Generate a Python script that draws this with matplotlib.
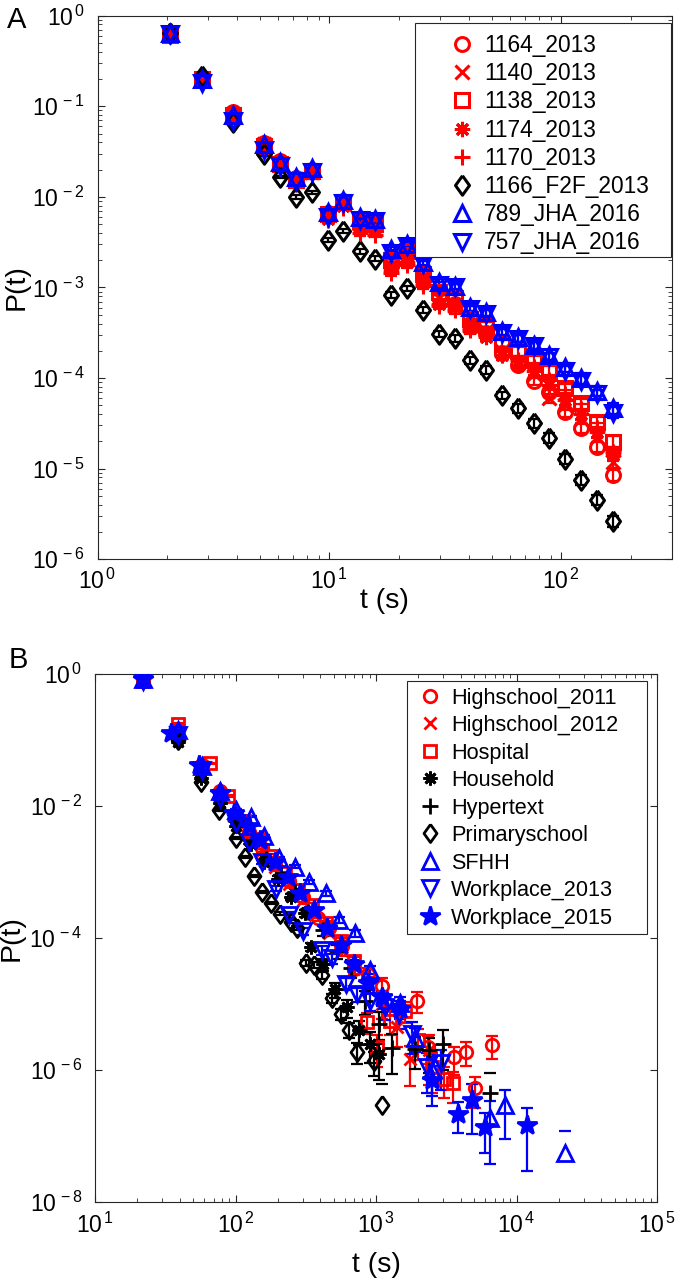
import numpy as np
import matplotlib
matplotlib.use('Agg')
import matplotlib.pyplot as plt
from matplotlib.ticker import LogLocator, NullLocator, NullFormatter, FuncFormatter
from matplotlib.patches import Rectangle

plt.rcParams['font.family'] = ['Liberation Sans', 'DejaVu Sans']
plt.rcParams['mathtext.fontset'] = 'custom'
plt.rcParams['mathtext.rm'] = 'Liberation Sans'
plt.rcParams['mathtext.it'] = 'Liberation Sans:italic'
plt.rcParams['mathtext.bf'] = 'Liberation Sans:bold'

# ---------------- Panel A data ----------------
tA = [2.05, 2.81, 3.85, 5.24, 6.1, 7.2, 8.4, 9.9, 11.5, 13.5, 15.8, 18.5, 21.7, 25.4,
      29.7, 34.8, 40.5, 47.3, 55.3, 64.9, 75.9, 88.9, 104, 122, 143, 167]
logP_1164 = [-0.21, -0.69, -1.06, -1.40, -1.60, -1.79, -1.70, -2.18, -2.05, -2.28, -2.33, -2.72, -2.64,
             -2.88, -3.10, -3.18, -3.40, -3.50, -3.72, -3.85, -4.03, -4.15, -4.37, -4.55, -4.76, -5.07]
logP_1140 = [-0.20, -0.70, -1.08, -1.42, -1.63, -1.80, -1.72, -2.20, -2.07, -2.30, -2.36, -2.75, -2.68,
             -2.90, -3.12, -3.20, -3.42, -3.48, -3.70, -3.82, -3.95, -4.22, -4.30, -4.45, -4.65, -4.93]
logP_1138 = [-0.21, -0.70, -1.10, -1.44, -1.64, -1.81, -1.71, -2.19, -2.06, -2.27, -2.30, -2.70, -2.60,
             -2.85, -3.05, -3.12, -3.35, -3.42, -3.62, -3.70, -3.80, -3.92, -4.11, -4.28, -4.48, -4.70]
logP_1174 = [-0.22, -0.71, -1.09, -1.45, -1.66, -1.84, -1.74, -2.24, -2.10, -2.35, -2.38, -2.80, -2.72,
             -2.95, -3.18, -3.22, -3.45, -3.55, -3.75, -3.86, -3.92, -4.08, -4.24, -4.40, -4.60, -4.85]
logP_1170 = [-0.21, -0.72, -1.12, -1.48, -1.68, -1.86, -1.78, -2.26, -2.12, -2.40, -2.42, -2.84, -2.75,
             -2.98, -3.20, -3.25, -3.47, -3.52, -3.74, -3.80, -3.88, -4.02, -4.18, -4.34, -4.55, -4.82]
logP_1166 = [-0.19, -0.67, -1.17, -1.53, -1.78, -2.00, -1.95, -2.48, -2.38, -2.60, -2.68, -3.08, -3.01,
             -3.25, -3.51, -3.56, -3.80, -3.91, -4.19, -4.33, -4.50, -4.66, -4.89, -5.12, -5.34, -5.58]
logP_789 = [-0.19, -0.70, -1.10, -1.42, -1.62, -1.78, -1.68, -2.17, -2.03, -2.22, -2.24, -2.58, -2.52,
            -2.72, -2.94, -2.98, -3.22, -3.27, -3.48, -3.55, -3.63, -3.74, -3.88, -4.00, -4.14, -4.33]
logP_757 = [-0.20, -0.74, -1.16, -1.48, -1.66, -1.83, -1.72, -2.22, -2.07, -2.25, -2.27, -2.62, -2.54,
            -2.74, -2.97, -3.00, -3.24, -3.29, -3.50, -3.57, -3.65, -3.77, -3.92, -4.03, -4.18, -4.38]
relerr_A = [0.01, 0.01, 0.02, 0.03, 0.03, 0.04, 0.04, 0.05, 0.05, 0.06, 0.06, 0.07, 0.07,
            0.08, 0.08, 0.09, 0.09, 0.10, 0.10, 0.11, 0.11, 0.12, 0.12, 0.13, 0.13, 0.14]

labels_A = ['1164_2013', '1140_2013', '1138_2013', '1174_2013', '1170_2013',
            '1166_F2F_2013', '789_JHA_2016', '757_JHA_2016']

# ---------------- Panel B data ----------------
hs2011_t = [22, 39, 58, 78, 100, 125, 155, 190, 240, 300, 385, 460, 570, 700, 880, 1100, 1950, 2340, 3600, 4400, 5100, 6700]
hs2011_lp = [-0.08, -0.85, -1.38, -1.78, -2.12, -2.40, -2.63, -2.88, -3.13, -3.38, -3.69, -3.85, -4.12, -4.47, -4.55, -4.72, -4.95, -5.65, -5.81, -5.72, -6.28, -5.62]
hs2011_rel = [0.01, 0.01, 0.02, 0.02, 0.03, 0.03, 0.04, 0.05, 0.06, 0.08, 0.10, 0.12, 0.15, 0.20, 0.25, 0.30, 0.35, 0.45, 0.45, 0.40, 0.50, 0.38]

hs2012_t = [22, 39, 58, 78, 100, 125, 155, 190, 240, 300, 370, 460, 570, 710, 880, 1100, 1400, 1760, 2400]
hs2012_lp = [-0.07, -0.88, -1.40, -1.80, -2.15, -2.44, -2.68, -2.93, -3.18, -3.42, -3.65, -3.92, -4.20, -4.45, -4.70, -5.00, -5.35, -5.84, -5.70]
hs2012_rel = [0.01, 0.01, 0.02, 0.02, 0.03, 0.04, 0.05, 0.06, 0.07, 0.08, 0.10, 0.12, 0.15, 0.20, 0.30, 0.40, 0.50, 0.60, 0.70]

hosp_t = [22, 39, 66, 88, 115, 145, 180, 225, 280, 350, 440, 560, 700, 860, 1020, 1250, 1600, 2000, 2500, 3050, 3560]
hosp_lp = [-0.10, -0.75, -1.35, -1.85, -2.22, -2.50, -2.75, -3.02, -3.28, -3.50, -3.78, -4.05, -4.35, -5.27, -5.65, -5.25, -5.10, -5.55, -5.95, -6.13, -6.20]
hosp_rel = [0.01, 0.02, 0.02, 0.03, 0.03, 0.04, 0.05, 0.06, 0.07, 0.08, 0.10, 0.12, 0.15, 0.35, 0.50, 0.40, 0.35, 0.50, 0.60, 0.50, 0.50]

hh_t = [22, 39, 57, 78, 100, 128, 160, 200, 250, 310, 347, 420, 513, 620, 760, 900, 1050]
hh_lp = [-0.05, -1.03, -1.58, -1.95, -2.30, -2.58, -2.85, -3.10, -3.38, -3.62, -4.13, -4.40, -4.78, -5.05, -5.40, -5.60, -5.75]
hh_rel = [0.01, 0.02, 0.03, 0.04, 0.05, 0.06, 0.07, 0.08, 0.10, 0.12, 0.15, 0.20, 0.25, 0.30, 0.40, 0.50, 0.60]

ht_t = [22, 39, 58, 78, 100, 130, 165, 210, 265, 330, 420, 530, 660, 830, 1050, 1300, 1900, 2400, 3000, 6500]
ht_lp = [-0.04, -0.95, -1.50, -1.88, -2.22, -2.52, -2.80, -3.05, -3.30, -3.60, -3.88, -4.20, -4.45, -4.95, -5.30, -5.66, -5.68, -5.70, -5.60, -6.35]
ht_rel = [0.01, 0.02, 0.03, 0.04, 0.05, 0.06, 0.08, 0.10, 0.12, 0.15, 0.20, 0.25, 0.30, 0.40, 0.50, 0.60, 0.50, 0.55, 0.60, 1.05]

ps_t = [22, 39, 57, 76, 100, 116, 135, 155, 178, 209, 247, 275, 315, 361, 414, 488, 560, 640, 734, 964, 1112]
ps_lp = [-0.05, -1.00, -1.63, -2.06, -2.49, -2.77, -3.06, -3.30, -3.47, -3.63, -3.75, -3.85, -4.38, -4.41, -4.56, -4.91, -5.15, -5.39, -5.72, -5.87, -6.53]
ps_rel = [0.01, 0.01, 0.02, 0.02, 0.03, 0.03, 0.04, 0.04, 0.05, 0.05, 0.06, 0.07, 0.10, 0.10, 0.12, 0.15, 0.20, 0.25, 0.35, 0.40, 1.10]

sfhh_t = [22, 39, 58, 78, 100, 128, 159, 204, 267, 332, 438, 544, 714, 913, 1200, 1490, 1880, 2510, 6460, 8300, 22000]
sfhh_lp = [-0.08, -0.85, -1.40, -1.78, -2.06, -2.16, -2.46, -2.79, -2.92, -3.15, -3.32, -3.73, -3.93, -4.48, -4.94, -4.99, -5.51, -6.00, -6.73, -6.53, -7.26]
sfhh_rel = [0.01, 0.01, 0.02, 0.02, 0.03, 0.03, 0.04, 0.05, 0.06, 0.07, 0.08, 0.10, 0.12, 0.15, 0.20, 0.25, 0.40, 0.60, 0.80, 0.70, 1.20]

wp13_t = [22, 39, 58, 78, 100, 125, 155, 195, 240, 300, 415, 490, 610, 730, 900, 1150, 1450, 1800, 2300, 2900]
wp13_lp = [-0.10, -0.92, -1.45, -1.88, -2.25, -2.55, -2.85, -3.25, -3.65, -3.90, -4.18, -4.31, -4.69, -4.85, -4.95, -5.05, -5.15, -5.45, -5.95, -5.90]
wp13_rel = [0.01, 0.02, 0.02, 0.03, 0.04, 0.05, 0.06, 0.08, 0.10, 0.12, 0.15, 0.18, 0.20, 0.25, 0.30, 0.35, 0.40, 0.50, 0.60, 0.60]

wp15_t = [22, 35, 55, 78, 98, 125, 150, 190, 235, 290, 360, 450, 560, 700, 880, 1100, 1490, 2510, 3860, 4800, 5940, 11800]
wp15_lp = [-0.07, -0.89, -1.38, -1.80, -2.10, -2.30, -2.52, -2.85, -3.08, -3.32, -3.58, -3.85, -4.10, -4.40, -4.68, -4.90, -5.07, -6.15, -6.66, -6.45, -6.86, -6.83]
wp15_rel = [0.01, 0.01, 0.02, 0.02, 0.03, 0.03, 0.04, 0.05, 0.06, 0.07, 0.08, 0.10, 0.12, 0.15, 0.20, 0.25, 0.30, 0.60, 0.50, 0.70, 0.60, 0.80]

labels_B = ['Highschool_2011', 'Highschool_2012', 'Hospital', 'Household', 'Hypertext',
            'Primaryschool', 'SFHH', 'Workplace_2013', 'Workplace_2015']

# ---------------- styles ----------------
RED, BLACK, BLUE = (1, 0, 0), (0, 0, 0), (0, 0, 1)
ASTERISK = (8, 2, 0)
DIAMOND = [(0, 1), (0.72, 0), (0, -1), (-0.72, 0), (0, 1)]
AXCOL = (0.15, 0.15, 0.15)
FIG_W, FIG_H = 677, 1285


def draw(ax, t, P, rel, color, marker, ms, filled, label, mew=2.0):
    t = np.asarray(t, float)
    P = np.asarray(P, float)
    rel = np.asarray(rel, float)
    up = P * rel
    lo = np.where(rel < 1, P * rel, np.nan)
    ax.errorbar(t, P, yerr=[lo, up], fmt='none', ecolor=color, elinewidth=1.6,
                capsize=4, capthick=1.6, zorder=2)
    ax.plot(t, P, linestyle='none', marker=marker, ms=ms, mec=color,
            mfc=color if filled else 'none', mew=mew, label=label, zorder=3)


def pow10(v, pos):
    e = int(round(np.log10(v)))
    return r'$\mathdefault{10^{\,%d}}$' % e


def style_axes(ax):
    for s in ax.spines.values():
        s.set_color(AXCOL)
        s.set_linewidth(0.8)
    ax.tick_params(which='both', direction='in', top=True, right=True,
                   colors=AXCOL, labelcolor='black', labelsize=16.5)
    ax.tick_params(which='major', length=5, width=0.8)
    ax.tick_params(which='minor', length=3, width=0.6)
    ax.xaxis.set_major_formatter(FuncFormatter(pow10))
    ax.yaxis.set_major_formatter(FuncFormatter(pow10))


def legend_box(ax, ax_px, px_box, handles_legend):
    # ax_px: (left, top, right, bottom) of the axes in pixels; px_box likewise for the frame
    l, t, r, b = ax_px
    bl, bt, br, bb = px_box
    fx = lambda x: (x - l) / (r - l)
    fy = lambda y: (b - y) / (b - t)
    ax.add_patch(Rectangle((fx(bl), fy(bb)), fx(br) - fx(bl), fy(bt) - fy(bb),
                           transform=ax.transAxes, facecolor='white', edgecolor=AXCOL,
                           linewidth=0.8, zorder=4.5, clip_on=False))


fig = plt.figure(figsize=(FIG_W / 100, FIG_H / 100), dpi=100)

# ---------------- Panel A ----------------
A_px = (97.5, 15.7, 672.0, 559.3)
axA = fig.add_axes([A_px[0] / FIG_W, 1 - A_px[3] / FIG_H,
                    (A_px[2] - A_px[0]) / FIG_W, (A_px[3] - A_px[1]) / FIG_H])
axA.set_xscale('log')
axA.set_yscale('log')
seriesA = [
    (logP_1164, RED, 'o', 10, False),
    (logP_1140, RED, 'x', 10, False),
    (logP_1138, RED, 's', 10, False),
    (logP_1174, RED, ASTERISK, 11, False),
    (logP_1170, RED, '+', 12, False),
    (logP_1166, BLACK, DIAMOND, 14, False),
    (logP_789, BLUE, '^', 12, False),
    (logP_757, BLUE, 'v', 12, False),
]
for (lp, c, m, ms, f), lab in zip(seriesA, labels_A):
    draw(axA, tA, 10 ** np.array(lp), relerr_A, c, m, ms, f, lab, mew=2.2)
axA.set_xlim(1, 300)
axA.set_ylim(1e-6, 1)
axA.xaxis.set_major_locator(LogLocator(base=10, numticks=10))
axA.xaxis.set_minor_locator(LogLocator(base=10, subs=np.arange(2, 10), numticks=20))
axA.yaxis.set_major_locator(LogLocator(base=10, numticks=10))
axA.yaxis.set_minor_locator(LogLocator(base=10, subs=np.arange(2, 10), numticks=20))
axA.xaxis.set_minor_formatter(NullFormatter())
axA.yaxis.set_minor_formatter(NullFormatter())
style_axes(axA)
axA.tick_params(axis='x', pad=7)
axA.tick_params(axis='y', pad=9)
axA.set_xlabel('t (s)', fontsize=20.5)
axA.set_ylabel('P(t)', fontsize=20.5)
axA.xaxis.set_label_coords(0.5, -0.052)
axA.yaxis.set_label_coords(-0.118, 0.5)
legend_box(axA, A_px, (415, 23, 671, 256.5), None)
legA = axA.legend(loc='upper left', bbox_to_anchor=(0.615, 0.9667), borderaxespad=0,
                  borderpad=0, frameon=False, fontsize=16.4, handlelength=1.0,
                  handletextpad=0.465, labelspacing=0.23, numpoints=1)
legA.set_zorder(6)

# ---------------- Panel B ----------------
B_px = (95.0, 674.0, 657.0, 1202.0)
axB = fig.add_axes([B_px[0] / FIG_W, 1 - B_px[3] / FIG_H,
                    (B_px[2] - B_px[0]) / FIG_W, (B_px[3] - B_px[1]) / FIG_H])
axB.set_xscale('log')
axB.set_yscale('log')
seriesB = [
    (hs2011_t, hs2011_lp, hs2011_rel, RED, 'o', 9, False),
    (hs2012_t, hs2012_lp, hs2012_rel, RED, 'x', 9, False),
    (hosp_t, hosp_lp, hosp_rel, RED, 's', 9, False),
    (hh_t, hh_lp, hh_rel, BLACK, ASTERISK, 10, False),
    (ht_t, ht_lp, ht_rel, BLACK, '+', 11, False),
    (ps_t, ps_lp, ps_rel, BLACK, DIAMOND, 13, False),
    (sfhh_t, sfhh_lp, sfhh_rel, BLUE, '^', 11, False),
    (wp13_t, wp13_lp, wp13_rel, BLUE, 'v', 11, False),
    (wp15_t, wp15_lp, wp15_rel, BLUE, '*', 15, True),
]
for (t, lp, rel, c, m, ms, f), lab in zip(seriesB, labels_B):
    draw(axB, t, 10 ** np.array(lp), rel, c, m, ms, f, lab, mew=2.0)
axB.set_xlim(10, 1e5)
axB.set_ylim(1e-8, 1)
axB.xaxis.set_major_locator(LogLocator(base=10, numticks=10))
axB.xaxis.set_minor_locator(LogLocator(base=10, subs=np.arange(2, 10), numticks=20))
axB.xaxis.set_minor_formatter(NullFormatter())
axB.set_yticks([1e-8, 1e-6, 1e-4, 1e-2, 1])
axB.yaxis.set_minor_locator(NullLocator())
style_axes(axB)
axB.tick_params(axis='x', pad=8)
axB.tick_params(axis='y', pad=9)
axB.set_xlabel('t (s)', fontsize=20.5)
axB.set_ylabel('P(t)', fontsize=20.5)
axB.xaxis.set_label_coords(0.5, -0.095)
axB.yaxis.set_label_coords(-0.125, 0.5)
legend_box(axB, B_px, (406.7, 680.7, 646.7, 934.0), None)
legB = axB.legend(loc='upper left', bbox_to_anchor=(0.5776, 0.9744), borderaxespad=0,
                  borderpad=0, frameon=False, fontsize=15.6, handlelength=1.0,
                  handletextpad=0.465, labelspacing=0.3, numpoints=1)
legB.set_zorder(6)

fig.text(17 / FIG_W, 1 - 20 / FIG_H, 'A', fontsize=21, ha='center', va='center')
fig.text(18 / FIG_W, 1 - 660 / FIG_H, 'B', fontsize=21, ha='center', va='center')

fig.savefig('out.png', dpi=100)
